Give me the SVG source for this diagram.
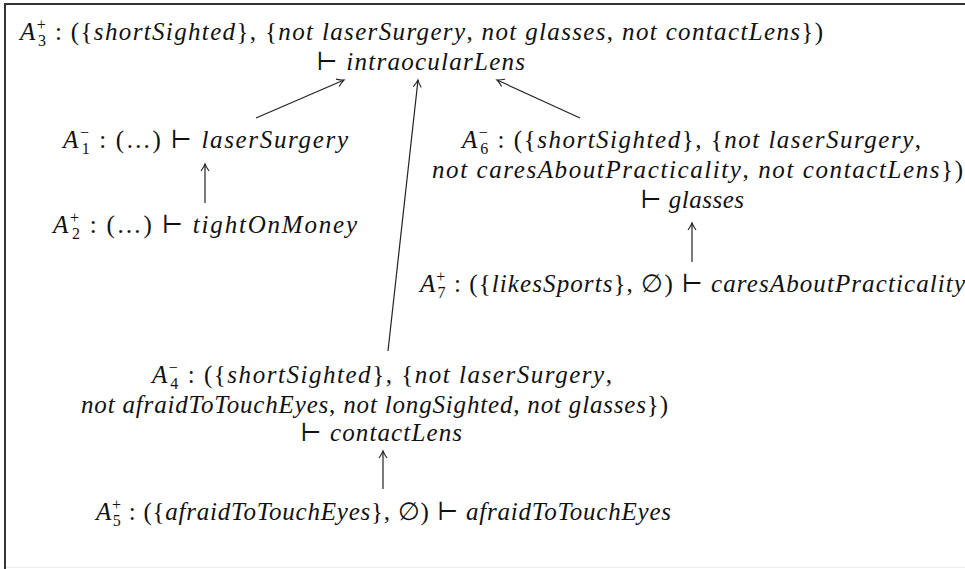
<svg xmlns="http://www.w3.org/2000/svg" width="965" height="569" viewBox="0 0 965 569">
<style>
text{font-family:"Liberation Serif","DejaVu Serif",serif;font-size:25px;fill:#111;}
.i{font-style:italic;}
.s{font-size:16px;}
.conn line{stroke:#222;stroke-width:1.2;fill:none;}
.frame{stroke:#333;stroke-width:2;}
</style>
<defs>
<marker id="ah" markerUnits="userSpaceOnUse" markerWidth="14" markerHeight="12" viewBox="-8 -6 10 12" refX="0" refY="0" orient="auto">
<path d="M -7 -4 Q -2.5 -0.8 0 0 Q -2.5 0.8 -7 4" fill="none" stroke="#222" stroke-width="1.1"/>
</marker>
</defs>
<rect width="965" height="569" fill="#fff"/>
<line class="frame" x1="4" y1="4" x2="965" y2="4"/>
<line class="frame" x1="5" y1="4" x2="5" y2="569"/>
<line x1="6" y1="567.5" x2="965" y2="567.5" stroke="#eeeeee" stroke-width="1"/>

<g id="A3">
<text x="20" y="40" textLength="803" lengthAdjust="spacing"><tspan class="i">A</tspan><tspan class="s" dy="-10">+</tspan><tspan class="s" dx="-9" dy="16">3</tspan><tspan dy="-6"> : ({</tspan><tspan class="i">shortSighted</tspan>}, {<tspan class="i">not laserSurgery</tspan>, <tspan class="i">not glasses</tspan>, <tspan class="i">not contactLens</tspan>})</text>
<text x="316" y="70" textLength="209" lengthAdjust="spacing">⊢ <tspan class="i">intraocularLens</tspan></text>
</g>

<g id="A1">
<text x="63" y="148" textLength="285" lengthAdjust="spacing"><tspan class="i">A</tspan><tspan class="s" dy="-10">−</tspan><tspan class="s" dx="-9" dy="16">1</tspan><tspan dy="-6"> : (…) ⊢ </tspan><tspan class="i">laserSurgery</tspan></text>
</g>

<g id="A2">
<text x="53" y="233" textLength="304" lengthAdjust="spacing"><tspan class="i">A</tspan><tspan class="s" dy="-10">+</tspan><tspan class="s" dx="-9" dy="16">2</tspan><tspan dy="-6"> : (…) ⊢ </tspan><tspan class="i">tightOnMoney</tspan></text>
</g>

<g id="A6">
<text x="462" y="148" textLength="459" lengthAdjust="spacing"><tspan class="i">A</tspan><tspan class="s" dy="-10">−</tspan><tspan class="s" dx="-9" dy="16">6</tspan><tspan dy="-6"> : ({</tspan><tspan class="i">shortSighted</tspan>}, {<tspan class="i">not laserSurgery</tspan>,</text>
<text x="432" y="178" textLength="531" lengthAdjust="spacing"><tspan class="i">not caresAboutPracticality</tspan>, <tspan class="i">not contactLens</tspan>})</text>
<text x="640" y="208" textLength="104" lengthAdjust="spacing">⊢ <tspan class="i">glasses</tspan></text>
</g>

<g id="A7">
<text x="420" y="292" textLength="545" lengthAdjust="spacing"><tspan class="i">A</tspan><tspan class="s" dy="-10">+</tspan><tspan class="s" dx="-9" dy="16">7</tspan><tspan dy="-6"> : ({</tspan><tspan class="i">likesSports</tspan>}, ∅) ⊢ <tspan class="i">caresAboutPracticality</tspan></text>
</g>

<g id="A4">
<text x="152" y="383" textLength="460" lengthAdjust="spacing"><tspan class="i">A</tspan><tspan class="s" dy="-10">−</tspan><tspan class="s" dx="-9" dy="16">4</tspan><tspan dy="-6"> : ({</tspan><tspan class="i">shortSighted</tspan>}, {<tspan class="i">not laserSurgery</tspan>,</text>
<text x="81" y="413" textLength="587" lengthAdjust="spacing"><tspan class="i">not afraidToTouchEyes</tspan>, <tspan class="i">not longSighted</tspan>, <tspan class="i">not glasses</tspan>})</text>
<text x="300" y="441" textLength="162" lengthAdjust="spacing">⊢ <tspan class="i">contactLens</tspan></text>
</g>

<g id="A5">
<text x="96" y="520" textLength="575" lengthAdjust="spacing"><tspan class="i">A</tspan><tspan class="s" dy="-10">+</tspan><tspan class="s" dx="-9" dy="16">5</tspan><tspan dy="-6"> : ({</tspan><tspan class="i">afraidToTouchEyes</tspan>}, ∅) ⊢ <tspan class="i">afraidToTouchEyes</tspan></text>
</g>

<g id="connectors" class="conn">
<line x1="256" y1="118" x2="344" y2="80" marker-end="url(#ah)"/>
<line x1="388" y1="351" x2="418" y2="80" marker-end="url(#ah)"/>
<line x1="580" y1="118" x2="497" y2="80" marker-end="url(#ah)"/>
<line x1="205" y1="203" x2="205" y2="164" marker-end="url(#ah)"/>
<line x1="692" y1="262" x2="692" y2="223" marker-end="url(#ah)"/>
<line x1="383" y1="489" x2="383" y2="451" marker-end="url(#ah)"/>
</g>
</svg>
